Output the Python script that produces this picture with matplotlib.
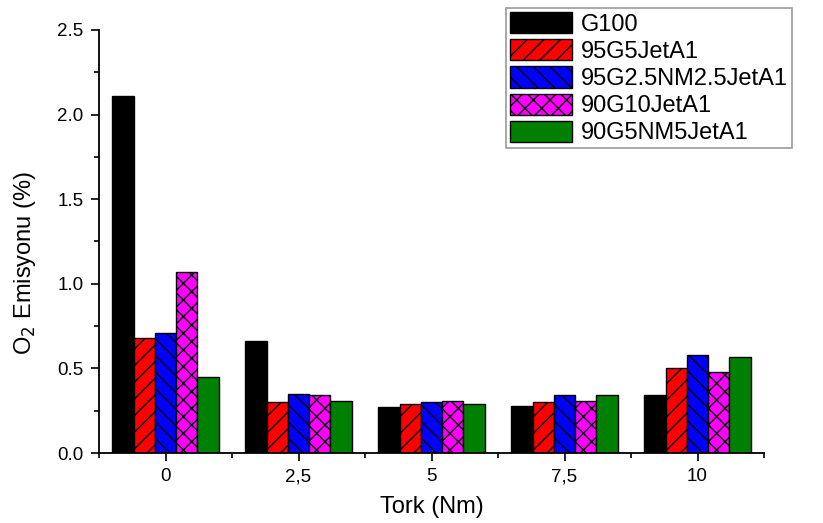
import matplotlib
matplotlib.use("Agg")
import matplotlib.pyplot as plt
from matplotlib.ticker import MultipleLocator, FormatStrFormatter
import numpy as np

plt.rcParams["font.family"] = ["Liberation Sans", "DejaVu Sans"]
plt.rcParams["hatch.linewidth"] = 1.0

# Data
torque_labels = ["0", "2,5", "5", "7,5", "10"]
fuel_names = ["G100", "95G5JetA1", "95G2.5NM2.5JetA1", "90G10JetA1", "90G5NM5JetA1"]
g100 = [2.11, 0.66, 0.27, 0.28, 0.34]
g95_jet5 = [0.68, 0.30, 0.29, 0.30, 0.50]
g95_nm25_jet25 = [0.71, 0.35, 0.30, 0.34, 0.58]
g90_jet10 = [1.07, 0.34, 0.31, 0.31, 0.48]
g90_nm5_jet5 = [0.45, 0.31, 0.29, 0.34, 0.57]

series = [g100, g95_jet5, g95_nm25_jet25, g90_jet10, g90_nm5_jet5]
colors = ["black", "red", "blue", "magenta", "green"]
hatches = ["", "//", "\\\\", "xx", ""]

fig = plt.figure(figsize=(8.23, 5.23), dpi=100)
ax = fig.add_axes([99 / 823, 1 - 453 / 523, (764 - 99) / 823, (453 - 30) / 523])

x = np.arange(len(torque_labels))
width = 0.16
handles = []
for i, (vals, col, hat, name) in enumerate(zip(series, colors, hatches, fuel_names)):
    pos = x + (i - 2) * width
    b = ax.bar(pos, vals, width, color=col, hatch=hat, edgecolor="black",
               linewidth=1.0, label=name)
    handles.append(b)

ax.set_xlim(-0.5, 4.5)
ax.set_ylim(0, 2.5)
ax.set_xticks(x)
ax.set_xticklabels(torque_labels)
ax.xaxis.set_minor_locator(MultipleLocator(0.5))
ax.yaxis.set_major_locator(MultipleLocator(0.5))
ax.yaxis.set_minor_locator(MultipleLocator(0.25))
ax.yaxis.set_major_formatter(FormatStrFormatter("%.1f"))

for side in ["top", "right"]:
    ax.spines[side].set_visible(False)
for side in ["left", "bottom"]:
    ax.spines[side].set_linewidth(1.3)

ax.tick_params(axis="both", which="major", direction="out", length=6, width=1.2,
               labelsize=13.5, pad=5)
ax.tick_params(axis="both", which="minor", direction="out", length=3.5, width=1.2)

ax.set_xlabel("Tork (Nm)", fontsize=17, labelpad=8)
ax.set_ylabel("O$_2$ Emisyonu (%)", fontsize=17)
ax.yaxis.set_label_coords(-0.092, 0.45)

leg = fig.legend(handles=handles, loc="upper left",
                 bbox_to_anchor=(506 / 823, 1 - 8 / 523),
                 fontsize=17, frameon=True, fancybox=False,
                 edgecolor="gray", borderaxespad=0, borderpad=0.17,
                 handlelength=2.63, handleheight=1.0, labelspacing=0.15,
                 handletextpad=0.38)
leg.get_frame().set_linewidth(1.2)

fig.savefig("out.png", dpi=100)
